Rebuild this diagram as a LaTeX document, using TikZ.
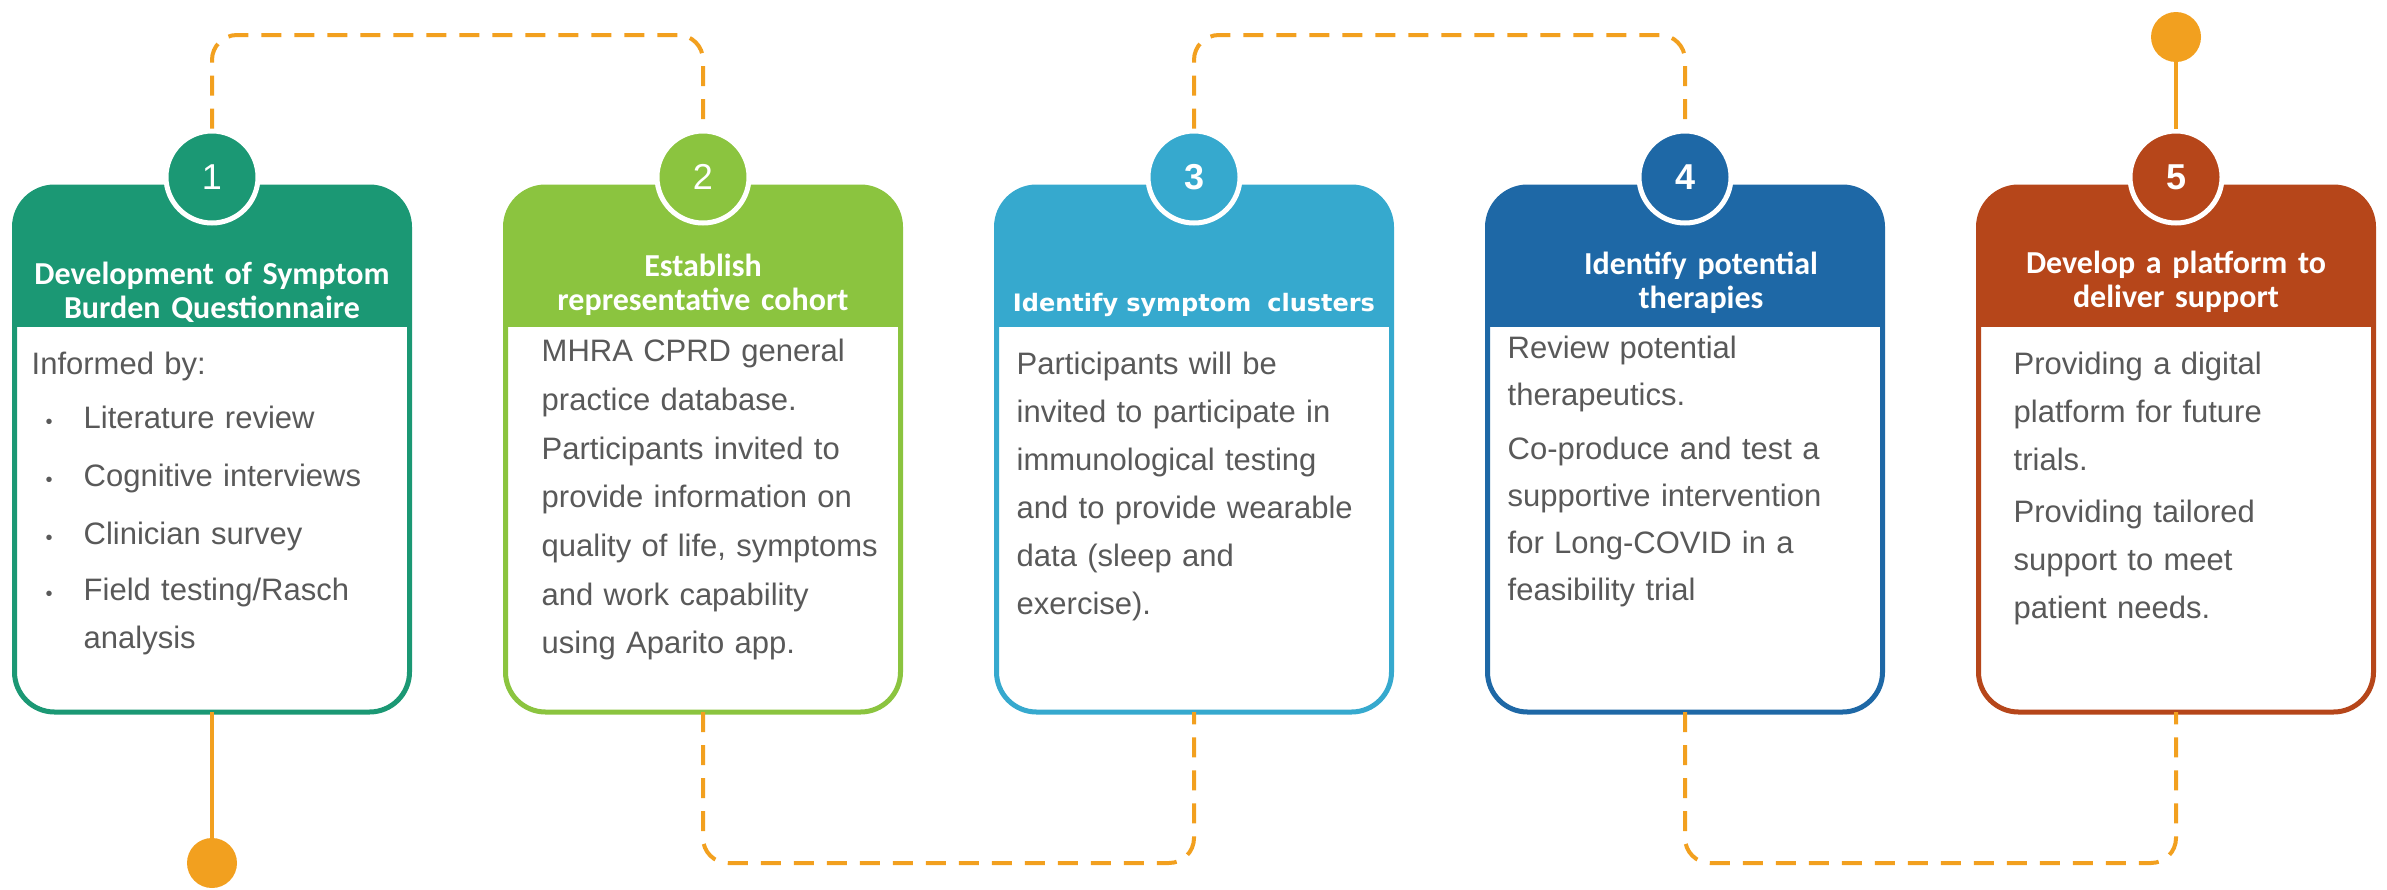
\documentclass[tikz,border=0pt]{standalone}
\usepackage{fontspec}
\setmainfont{Liberation Sans}
\newfontfamily\headfont{Carlito}
\newfontfamily\clusterfont{DejaVu Sans}
\usetikzlibrary{positioning}
\definecolor{cone}{HTML}{1B9874}
\definecolor{ctwo}{HTML}{8BC43F}
\definecolor{cthree}{HTML}{36A9CE}
\definecolor{cfour}{HTML}{1E68A6}
\definecolor{cfive}{HTML}{B6461A}
\definecolor{corange}{HTML}{F2A01F}
\definecolor{bodygray}{HTML}{595959}

\begin{document}
\begin{tikzpicture}[x=1pt, y=-1pt, node distance=96pt]
    \tikzstyle{card} = [rectangle, minimum width=395pt, minimum height=525pt,
               inner sep=0pt, outer sep=0pt]
    \tikzstyle{numcircle} = [circle, draw=white, line width=5pt, minimum size=92pt,
               inner sep=0pt, text=white, font=\fontsize{36}{36}\selectfont]
    \tikzstyle{headtext} = [text=white, text width=395pt, align=center,
               font=\headfont\bfseries\fontsize{32}{34}\selectfont]
    \tikzstyle{bodytext} = [anchor=north west, inner sep=0pt, text=bodygray,
               text width=350pt, align=left, font=\fontsize{31}{48}\selectfont]
    \tikzstyle{dashline} = [draw=corange, line width=4pt,
               dash pattern=on 20pt off 13pt, rounded corners=25pt]
    \tikzstyle{solidline} = [draw=corange, line width=4pt]
    \tikzstyle{dot} = [circle, fill=corange, minimum size=50pt, inner sep=0pt]
    \newcommand{\blt}{\hspace*{14pt}\makebox[38pt][l]{\fontsize{20}{20}\selectfont •}}

    \useasboundingbox (0,0) rectangle (2387,889);
    \coordinate (toprow) at (0,35);
    \coordinate (botrow) at (0,863);

    % Define cards
    \node[card] (c1) at (212,449.5) {};
    \node[card, right=of c1] (c2) {};
    \node[card, right=of c2] (c3) {};
    \node[card, right=of c3] (c4) {};
    \node[card, right=of c4] (c5) {};

    % Card body, header band and border
    \foreach \c/\col in {c1/cone, c2/ctwo, c3/cthree, c4/cfour, c5/cfive} {
      \fill[white, rounded corners=40pt] (\c.south west) rectangle (\c.north east);
      \begin{scope}
        \clip[rounded corners=40pt] (\c.south west) rectangle (\c.north east);
        \fill[\col] (\c.north west) rectangle ([yshift=-140pt]\c.north east);
      \end{scope}
      \draw[\col, line width=5pt, rounded corners=40pt]
        (\c.south west) rectangle (\c.north east);
    }

    % Step numbers
    \node[numcircle, fill=cone] (n1) at ([yshift=10pt]c1.north) {1};
    \node[numcircle, fill=ctwo] (n2) at ([yshift=10pt]c2.north) {2};
    \node[numcircle, fill=cthree, font=\bfseries\fontsize{36}{36}\selectfont]
      (n3) at ([yshift=10pt]c3.north) {3};
    \node[numcircle, fill=cfour, font=\bfseries\fontsize{36}{36}\selectfont]
      (n4) at ([yshift=10pt]c4.north) {4};
    \node[numcircle, fill=cfive, font=\bfseries\fontsize{36}{36}\selectfont]
      (n5) at ([yshift=10pt]c5.north) {5};

    % Connectors between the steps
    \draw[dashline] (n1.north) -- (n1.north |- toprow) -- (n2.north |- toprow) -- (n2.north);
    \draw[dashline] (c2.south) -- (c2.south |- botrow) -- (c3.south |- botrow) -- (c3.south);
    \draw[dashline] (n3.north) -- (n3.north |- toprow) -- (n4.north |- toprow) -- (n4.north);
    \draw[dashline] (c4.south) -- (c4.south |- botrow) -- (c5.south |- botrow) -- (c5.south);

    % Start and end points
    \node[dot] (start) at (c1.south |- botrow) {};
    \draw[solidline] (c1.south) -- (start);
    \node[dot] (finish) at ([yshift=-2pt]n5.north |- toprow) {};
    \draw[solidline] (n5.north) -- (finish);

    % Headers
    \node[headtext] (h1) at ([yshift=-105pt]c1.north) {Development of Symptom\\Burden Questionnaire};
    \node[headtext] (h2) at ([yshift=-98pt]c2.north) {Establish\\representative cohort};
    \node[headtext, font=\clusterfont\bfseries\fontsize{24}{28}\selectfont]
      (h3) at ([yshift=-118pt]c3.north) {Identify symptom\ \ clusters};
    \node[headtext] (h4) at ([xshift=16pt,yshift=-96pt]c4.north) {Identify potential\\therapies};
    \node[headtext] (h5) at ([yshift=-95pt]c5.north) {Develop a platform to\\deliver support};

    % Body texts
    \node[bodytext] (b1) at ([xshift=17pt,yshift=-165pt]c1.north west) {Informed by:\\[6pt]
      \blt Literature review\\[10pt]
      \blt Cognitive interviews\\[10pt]
      \blt Clinician survey\\[8pt]
      \blt Field testing/Rasch\\
      \hspace*{52pt}analysis};
    \node[bodytext, font=\fontsize{31}{48.7}\selectfont]
      (b2) at ([xshift=36pt,yshift=-152pt]c2.north west) {MHRA CPRD general\\practice database.\\
      Participants invited to\\provide information on\\quality of life, symptoms\\
      and work capability\\using Aparito app.};
    \node[bodytext] (b3) at ([xshift=20pt,yshift=-165pt]c3.north west) {Participants will be\\
      invited to participate in\\immunological testing\\and to provide wearable\\
      data (sleep and\\exercise).};
    \node[bodytext, font=\fontsize{31}{47}\selectfont]
      (b4) at ([xshift=20pt,yshift=-149pt]c4.north west) {Review potential\\therapeutics.\\[7pt]
      Co-produce and test a\\supportive intervention\\for Long-COVID in a\\feasibility trial};
    \node[bodytext] (b5) at ([xshift=35pt,yshift=-165pt]c5.north west) {Providing a digital\\
      platform for future\\trials.\\[4pt]
      Providing tailored\\support to meet\\patient needs.};
\end{tikzpicture}
\end{document}
